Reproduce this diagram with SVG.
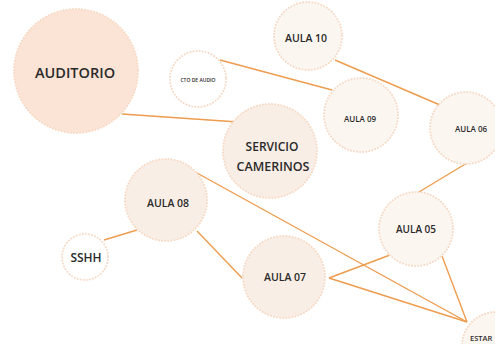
<svg xmlns="http://www.w3.org/2000/svg" width="495" height="344" viewBox="0 0 495 344">
<style>
.n{stroke:#f6dac6;stroke-width:2;stroke-dasharray:0.1 3;stroke-linecap:round}
.a{fill:#fbe4d5}
.b{fill:#f9eee5}
.c{fill:#fcf6f1}
.w{fill:#ffffff}
text{font-family:"Open Sans","Liberation Sans",sans-serif;font-weight:600;fill:#2a2a2a;text-anchor:middle;dominant-baseline:central}
.e line{stroke:#ee9c4e;stroke-width:1.4}
</style>
<rect width="495" height="344" fill="#ffffff"/>
<g id="connectors" class="e">
<line x1="122" y1="114" x2="238" y2="122"/>
<line x1="220" y1="60" x2="332" y2="90"/>
<line x1="335" y1="60" x2="440" y2="105"/>
<line x1="467" y1="163" x2="419" y2="192"/>
<line x1="137" y1="230" x2="104" y2="240"/>
<line x1="197" y1="231" x2="242" y2="278"/>
<line x1="197" y1="173" x2="467" y2="322"/>
<line x1="329" y1="278" x2="390" y2="255"/>
<line x1="329" y1="278" x2="467" y2="322"/>
<line x1="442" y1="256" x2="467" y2="322"/>
</g>
<g id="auditorio"><circle class="n a" cx="76" cy="71" r="62"/><text x="75" y="72" font-size="14.5">AUDITORIO</text></g>
<g id="cto-audio"><circle class="n w" cx="198" cy="79" r="28"/><text x="198" y="80" font-size="5">CTO DE AUDIO</text></g>
<g id="aula10"><circle class="n c" cx="308" cy="36" r="34"/><text x="306" y="38" font-size="10.5">AULA 10</text></g>
<g id="aula09"><circle class="n c" cx="361" cy="115" r="37"/><text x="360" y="118" font-size="8">AULA 09</text></g>
<g id="aula06"><circle class="n c" cx="466" cy="128" r="36"/><text x="471" y="128" font-size="8">AULA 06</text></g>
<g id="servicio"><circle class="n b" cx="270" cy="151" r="47"/><text x="272" y="146" font-size="12">SERVICIO</text><text x="273" y="166" font-size="12.5">CAMERINOS</text></g>
<g id="aula08"><circle class="n b" cx="166" cy="200" r="41"/><text x="168" y="203" font-size="10.5">AULA 08</text></g>
<g id="sshh"><circle class="n w" cx="85" cy="257" r="23"/><text x="86" y="257" font-size="12">SSHH</text></g>
<g id="aula05"><circle class="n c" cx="416" cy="229" r="37"/><text x="416" y="229" font-size="10">AULA 05</text></g>
<g id="aula07"><circle class="n b" cx="284" cy="277" r="41"/><text x="285" y="277" font-size="10.5">AULA 07</text></g>
<g id="estar"><circle class="n c" cx="496" cy="346" r="34"/><text x="470" y="338" font-size="7.5" style="text-anchor:start">ESTAR</text></g>
</svg>
